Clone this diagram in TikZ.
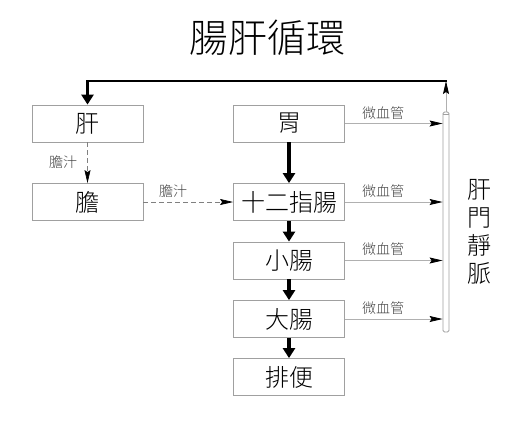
\documentclass[tikz,border=0pt]{standalone}
\usepackage{fontspec}
\setmainfont{Noto Sans CJK TC Light}
\usetikzlibrary{arrows.meta}
\definecolor{boxgray}{HTML}{A0A0A0}
\definecolor{linegray}{HTML}{B0B0B0}
\definecolor{labgray}{HTML}{404040}
\tikzset{
  organ/.style={draw=boxgray, line width=0.8pt, minimum width=111pt, minimum height=37pt, inner sep=0pt, font=\fontsize{24}{26}\selectfont},
  flow/.style={line width=3.5pt, -{Triangle[length=10pt,width=12pt]}},
  capil/.style={draw=linegray, line width=0.8pt, -{Stealth[length=13pt,width=6pt,inset=2pt,black]}},
  bile/.style={draw=gray, line width=0.7pt, dash pattern=on 5pt off 3pt, -{Stealth[length=13pt,width=6pt,inset=2pt,black]}},
  lab/.style={font=\fontsize{14}{16}\selectfont, text=labgray, inner sep=0pt},
}
\begin{document}
\begin{tikzpicture}[x=1pt,y=-1pt]
\useasboundingbox (0,0) rectangle (527,421);
\node[font=\fontsize{39}{42}\selectfont, inner sep=0pt] (title) at (267.5,38) {腸肝循環};
\node[organ] (gan) at (87.5,123.5) {肝};
\node[organ] (dan) at (87.5,202) {膽};
\node[organ] (wei) at (289,123.5) {胃};
\node[organ] (sez) at (289,202) {十二指腸};
\node[organ] (xiao) at (289,260.5) {小腸};
\node[organ] (da) at (289,319) {大腸};
\node[organ] (pai) at (289,377) {排便};
% portal vein tube
\node[draw=boxgray, line width=0.8pt, rounded corners=1.5pt, minimum width=6pt, minimum height=220pt, inner sep=0pt] (tube) at (446,222) {};
\draw[boxgray, line width=0.6pt] ([yshift=-3pt]tube.north west) -- ([yshift=-3pt]tube.north east);
\node[align=center, font=\fontsize{24}{28}\selectfont, inner sep=0pt] (pv) at (479,232) {肝\\門\\靜\\脈};
% top return line
\coordinate (topR) at (446,81);
\coordinate (topL) at (87.5,81);
\draw[capil] (tube.north) -- (topR);
\draw[line width=2.5pt, -{Triangle[length=10pt,width=12pt]}] ([xshift=0.5pt]topR) -- (topL) -- (gan.north);
% digestive flow
\draw[flow] (wei) -- (sez);
\draw[flow] (sez) -- (xiao);
\draw[flow] (xiao) -- (da);
\draw[flow] (da) -- (pai);
% capillaries
\foreach \o in {wei,sez,xiao,da}{
  \draw[capil] (\o.east) -- (tube.west |- \o.east);
}
\node[lab] (l1) at (383,113) {微血管};
\node[lab] (l2) at (383,191) {微血管};
\node[lab] (l3) at (383,249) {微血管};
\node[lab] (l4) at (383,308) {微血管};
% bile
\draw[bile] (gan) -- (dan);
\draw[bile] (dan) -- (sez);
\node[lab] (b1) at (63,162) {膽汁};
\node[lab] (b2) at (173,191) {膽汁};
\end{tikzpicture}
\end{document}
